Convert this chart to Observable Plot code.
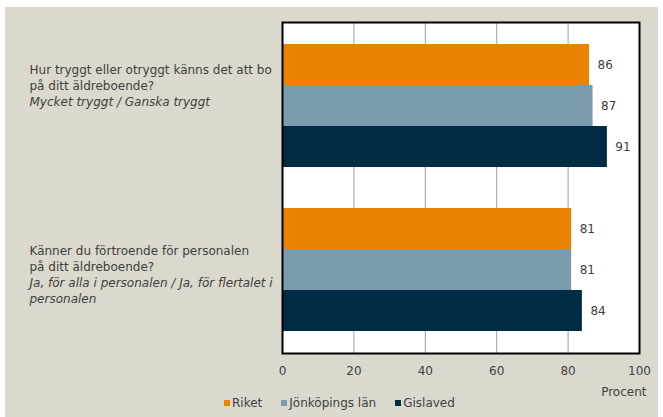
<!DOCTYPE html>
<html><head><meta charset="utf-8">
<script src="https://cdn.jsdelivr.net/npm/d3@7"></script>
<script src="https://cdn.jsdelivr.net/npm/@observablehq/plot@0.6"></script>
<style>
html,body{margin:0;padding:0;background:#fff;}
#chart{position:relative;margin:7px 0 0 5px;width:653px;height:410px;background:#DBD9CD;font-family:"DejaVu Sans";}
#chart svg{display:block;}
#legend{position:absolute;left:219px;top:390px;}
#legend [class*="-swatches"]{min-height:0 !important;margin:0 !important;font-family:"DejaVu Sans" !important;font-size:12px !important;color:#404040 !important;line-height:12px;}
#legend [class$="-swatch"]{margin-right:19px !important;}
#legend [class$="-swatch"] > svg{margin-right:2px !important;}
</style></head><body><div id="chart"><div id="legend"></div></div>
<script>
// ---- data ----
const questions = [
  "Hur tryggt eller otryggt känns det att bo\npå ditt äldreboende?",
  "Känner du förtroende för personalen\npå ditt äldreboende?"
];
const answers = [
  "Mycket tryggt / Ganska tryggt",
  "Ja, för alla i personalen / Ja, för flertalet i\npersonalen"
];
const series = ["Riket", "Jönköpings län", "Gislaved"];
const riket = [86, 81];
const jonkopingsLan = [87, 81];
const gislaved = [91, 84];
const xTicks = [0, 20, 40, 60, 80, 100];
const xLabel = "Procent";

// ---- style ----
const seriesColors = ["#E98300", "#7B9BAE", "#002B45"];
const textColor = "#404040";
const labelTop = [-37, -20.5];
const lineH = 16, fontSize = 12;

const valuesBySeries = [riket, jonkopingsLan, gislaved];
const rows = questions.flatMap((q, qi) => series.map((s, si) => ({key: `${qi}|${si}`, qi, series: s, value: valuesBySeries[si][qi]})));
const yDomain = questions.flatMap((q, qi) => [...(qi ? ["gap" + qi] : []), ...series.map((s, si) => `${qi}|${si}`)]);
const labels = questions.map((q, qi) => ({key: `${qi}|1`, qi, q, a: answers[qi]}));

const labelMarks = labels.flatMap(d => {
  const nq = d.q.split("\n").length, na = d.a.split("\n").length;
  const common = {y: "key", frameAnchor: "left", textAnchor: "start", dx: -253, lineHeight: lineH / fontSize, fill: textColor};
  return [
    Plot.text([d], {...common, text: "q", dy: labelTop[d.qi] + (nq - 1) * lineH / 2}),
    Plot.text([d], {...common, text: "a", fontStyle: "italic", dy: labelTop[d.qi] + nq * lineH + (na - 1) * lineH / 2})
  ];
});

const chart = Plot.plot({
  width: 653, height: 391,
  marginLeft: 277, marginRight: 19, marginTop: 15, marginBottom: 45,
  style: {fontFamily: "DejaVu Sans", fontSize: "12px", color: textColor, background: "transparent", overflow: "visible"},
  x: {domain: [0, 100], ticks: xTicks, tickSize: 0, tickPadding: 13, label: null},
  y: {domain: yDomain, axis: null, paddingInner: 0, paddingOuter: 0.537, round: false},
  color: {domain: series, range: seriesColors},
  marks: [
    Plot.frame({fill: "white", stroke: "none"}),
    Plot.gridX(xTicks.slice(1, -1), {stroke: "#a0a0a0", strokeOpacity: 1, strokeWidth: 1}),
    Plot.barX(rows, {x: "value", y: "key", fill: "series"}),
    Plot.text(rows, {x: "value", y: "key", text: d => String(d.value), textAnchor: "start", dx: 8, fill: textColor}),
    Plot.frame({stroke: "black", strokeWidth: 2}),
    ...labelMarks,
    Plot.text([xLabel], {text: d => d, frameAnchor: "bottom-right", textAnchor: "end", dx: 7, dy: 42, fill: textColor})
  ]
});
const host = document.getElementById("chart");
host.insertBefore(chart, host.firstChild);
document.getElementById("legend").appendChild(chart.legend("color", {swatchSize: 6}));
</script></body></html>
